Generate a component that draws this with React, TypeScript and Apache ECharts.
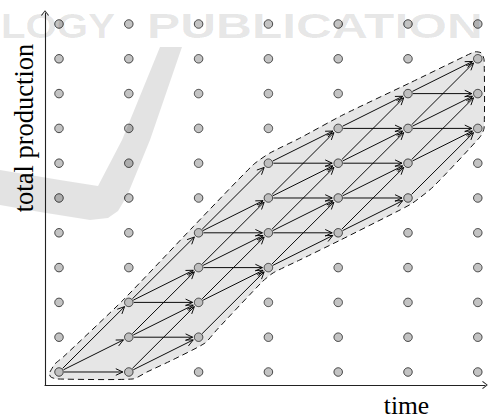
import React, { useEffect, useRef } from "react";
import * as echarts from "echarts";

// ---- data ----
const timeSteps = [0, 1, 2, 3, 4, 5, 6];
const productionLevels = [0, 1, 2, 3, 4, 5, 6, 7, 8, 9, 10];
// feasible production range (inclusive) at each time step
const feasibleLow = [0, 0, 1, 3, 4, 5, 7];
const feasibleHigh = [0, 2, 4, 6, 7, 8, 9];
// possible production increments per time step
const stepIncrements = [0, 1, 2];
// outline of the feasible region (time, production)
const regionOutline: [number, number][] = [
  [-0.13, 0.0],
  [-0.06, 0.23],
  [0.06, 0.43],
  [0.92, 2.07],
  [1.92, 4.17],
  [2.78, 5.95],
  [3.02, 6.29],
  [3.45, 6.72],
  [4.07, 7.39],
  [5.03, 8.31],
  [5.79, 9.05],
  [5.96, 9.2],
  [6.05, 9.17],
  [6.09, 8.97],
  [6.09, 7.01],
  [6.03, 6.75],
  [5.36, 5.32],
  [5.07, 4.86],
  [4.89, 4.66],
  [4.03, 3.79],
  [3.45, 3.22],
  [3.07, 2.85],
  [2.91, 2.59],
  [2.26, 1.21],
  [2.09, 0.83],
  [1.63, 0.35],
  [1.26, 0.0],
  [1.06, -0.2],
  [-0.03, -0.2],
  [-0.12, -0.14],
  [-0.14, -0.03],
];
const xLabel = "time";
const yLabel = "total production";
const watermarkLeft = "LOGY";
const watermarkRight = "PUBLICATION";

// ---- derived ----
const gridPoints: [number, number][] = [];
timeSteps.forEach((t) => productionLevels.forEach((p) => gridPoints.push([t, p])));

const edges: [number, number, number, number][] = [];
for (let i = 0; i < timeSteps.length - 1; i++) {
  for (let r = feasibleLow[i]; r <= feasibleHigh[i]; r++) {
    stepIncrements.forEach((k) => {
      const r2 = r + k;
      if (r2 >= feasibleLow[i + 1] && r2 <= feasibleHigh[i + 1]) {
        edges.push([timeSteps[i], r, timeSteps[i + 1], r2]);
      }
    });
  }
}

const arrowPath = "path://M0,0 L4,5 L3.2,5.6 L0,1.3 L-3.2,5.6 L-4,5 Z";

export default function App() {
  const ref = useRef<HTMLDivElement>(null);
  useEffect(() => {
    if (!ref.current) return;
    const chart = echarts.init(ref.current, undefined, { renderer: "svg" });
    const axisCommon = {
      type: "value" as const,
      axisLine: {
        show: true,
        onZero: false,
        symbol: ["none", arrowPath],
        symbolSize: [8, 5.6],
        lineStyle: { color: "#222", width: 1.1 },
      },
      axisTick: { show: false },
      axisLabel: { show: false },
      splitLine: { show: false },
    };
    chart.setOption({
      animation: false,
      backgroundColor: "#fff",
      grid: { left: 45, right: 4, top: 13, bottom: 34 },
      xAxis: { ...axisCommon, min: -0.2006, max: 6.1032 },
      yAxis: { ...axisCommon, min: -0.3736, max: 10.316 },
      series: [
        {
          type: "custom",
          z: 1,
          silent: true,
          data: regionOutline,
          encode: { x: 0, y: 1 },
          renderItem: (params: any, api: any) => {
            if (params.dataIndex !== 0) return { type: "group", children: [] };
            const pts = regionOutline.map((p) => api.coord(p));
            return {
              type: "polygon",
              shape: { points: pts, smooth: 0.2 },
              style: { fill: "#e6e6e6", stroke: "#111", lineWidth: 1, lineDash: [6, 4] },
            };
          },
        },
        {
          type: "custom",
          z: 2,
          silent: true,
          data: edges,
          encode: { x: [0, 2], y: [1, 3] },
          renderItem: (params: any, api: any) => {
            const a = api.coord([api.value(0), api.value(1)]);
            const b = api.coord([api.value(2), api.value(3)]);
            const dx = b[0] - a[0];
            const dy = b[1] - a[1];
            const len = Math.sqrt(dx * dx + dy * dy);
            const ux = dx / len;
            const uy = dy / len;
            const sx = a[0] + ux * 5;
            const sy = a[1] + uy * 5;
            const ex = b[0] - ux * 6;
            const ey = b[1] - uy * 6;
            const hl = 7;
            const hw = 3.3;
            const bx = ex - ux * hl;
            const by = ey - uy * hl;
            const px = -uy;
            const py = ux;
            return {
              type: "group",
              children: [
                {
                  type: "line",
                  shape: { x1: sx, y1: sy, x2: ex, y2: ey },
                  style: { stroke: "#000", lineWidth: 0.95 },
                },
                {
                  type: "polyline",
                  shape: {
                    points: [
                      [bx + px * hw, by + py * hw],
                      [ex, ey],
                      [bx - px * hw, by - py * hw],
                    ],
                  },
                  style: { stroke: "#000", fill: null, lineWidth: 0.95 },
                },
              ],
            };
          },
        },
        {
          type: "scatter",
          z: 3,
          silent: true,
          data: gridPoints,
          symbol: "circle",
          symbolSize: 8.5,
          itemStyle: { color: "#b4b4b4", borderColor: "#222", borderWidth: 1 },
        },
      ],
      graphic: [
        {
          type: "text",
          z: 50,
          x: 406.5,
          y: 405.5,
          style: {
            text: xLabel,
            fontFamily: "Liberation Serif",
            fontSize: 25.5,
            fill: "#000",
            align: "center",
            verticalAlign: "middle",
          },
        },
        {
          type: "text",
          z: 50,
          x: 24,
          y: 128,
          rotation: Math.PI / 2,
          style: {
            text: yLabel,
            fontFamily: "Liberation Serif",
            fontSize: 26.5,
            fill: "#000",
            align: "center",
            verticalAlign: "middle",
          },
        },
        {
          type: "text",
          z: 100,
          silent: true,
          x: 1,
          y: 26,
          scaleX: 1.15,
          style: {
            text: watermarkLeft,
            fontFamily: "Liberation Sans",
            fontWeight: "bold",
            fontSize: 35,
            fill: "rgba(0,0,0,0.1)",
            align: "left",
            verticalAlign: "middle",
          },
        },
        {
          type: "text",
          z: 100,
          silent: true,
          x: 147,
          y: 26,
          scaleX: 1.42,
          style: {
            text: watermarkRight,
            fontFamily: "Liberation Sans",
            fontWeight: "bold",
            fontSize: 35,
            fill: "rgba(0,0,0,0.1)",
            align: "left",
            verticalAlign: "middle",
          },
        },
        {
          type: "polygon",
          z: 100,
          silent: true,
          shape: {
            points: [
              [160, 47],
              [182, 47],
              [150, 140],
              [127, 196],
              [118, 211],
              [108, 218],
              [90, 220],
              [40, 212],
              [0, 205],
              [0, 170],
              [60, 180],
              [98, 186],
              [122, 140],
            ],
          },
          style: { fill: "rgba(0,0,0,0.11)" },
        },
      ],
    });
    return () => chart.dispose();
  }, []);
  return (
    <div
      ref={ref}
      style={{ position: "absolute", left: 0, top: 0, width: 489, height: 419 }}
    />
  );
}
